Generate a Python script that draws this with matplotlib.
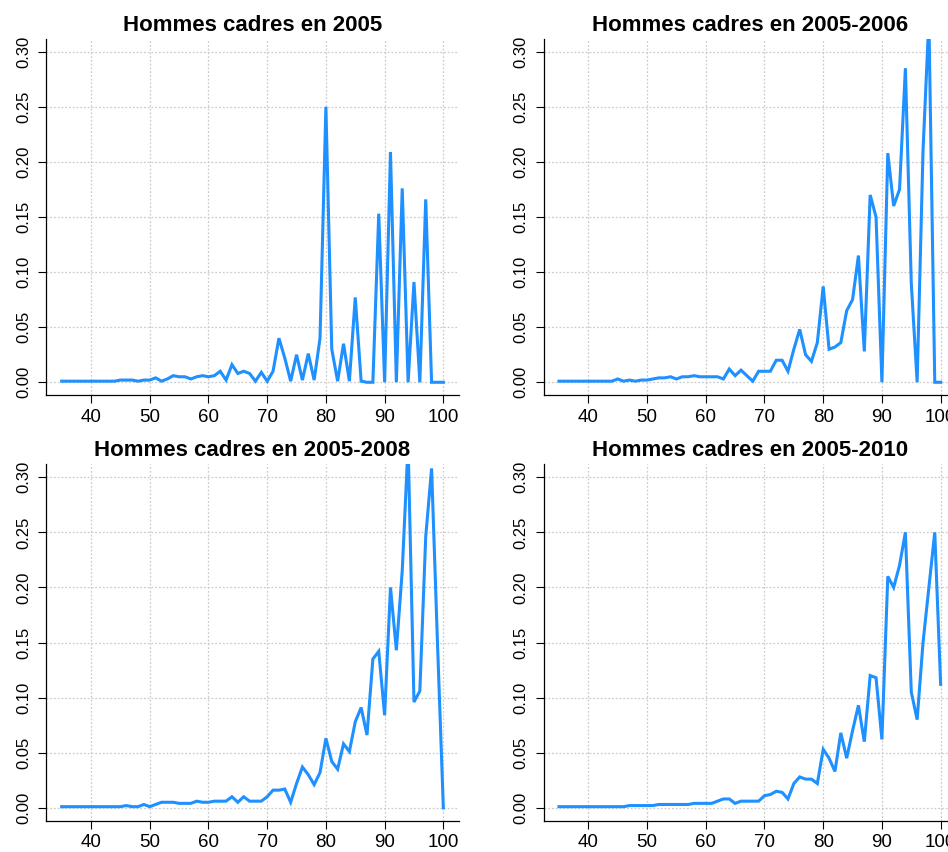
import matplotlib
matplotlib.use("Agg")
import matplotlib.pyplot as plt

plt.rcParams["font.family"] = ["Liberation Sans", "DejaVu Sans"]

# ages 35..100
ages = list(range(35, 101))

titres = [
    "Hommes cadres en 2005",
    "Hommes cadres en 2005-2006",
    "Hommes cadres en 2005-2008",
    "Hommes cadres en 2005-2010",
]

taux_2005 = [
    0.001, 0.001, 0.001, 0.001, 0.001, 0.001, 0.001, 0.001, 0.001, 0.001,
    0.002, 0.002, 0.002, 0.001, 0.002, 0.002, 0.004, 0.001, 0.003, 0.006,
    0.005, 0.005, 0.003, 0.005, 0.006, 0.005, 0.006, 0.010, 0.002, 0.016,
    0.008, 0.010, 0.008, 0.001, 0.009, 0.001, 0.010, 0.040, 0.022, 0.001,
    0.025, 0.002, 0.026, 0.002, 0.040, 0.250, 0.030, 0.001, 0.035, 0.001,
    0.077, 0.001, 0.000, 0.000, 0.153, 0.000, 0.209, 0.000, 0.176, 0.000,
    0.091, 0.000, 0.166, 0.000, 0.000, 0.000,
]

taux_2006 = [
    0.001, 0.001, 0.001, 0.001, 0.001, 0.001, 0.001, 0.001, 0.001, 0.001,
    0.003, 0.001, 0.002, 0.001, 0.002, 0.002, 0.003, 0.004, 0.004, 0.005,
    0.003, 0.005, 0.005, 0.006, 0.005, 0.005, 0.005, 0.005, 0.003, 0.012,
    0.006, 0.011, 0.006, 0.001, 0.010, 0.010, 0.010, 0.020, 0.020, 0.010,
    0.030, 0.048, 0.025, 0.019, 0.036, 0.087, 0.030, 0.032, 0.036, 0.065,
    0.075, 0.115, 0.028, 0.170, 0.150, 0.000, 0.208, 0.160, 0.175, 0.285,
    0.090, 0.000, 0.210, 0.330, 0.000, 0.000,
]

taux_2008 = [
    0.001, 0.001, 0.001, 0.001, 0.001, 0.001, 0.001, 0.001, 0.001, 0.001,
    0.001, 0.002, 0.001, 0.001, 0.003, 0.001, 0.003, 0.005, 0.005, 0.005,
    0.004, 0.004, 0.004, 0.006, 0.005, 0.005, 0.006, 0.006, 0.006, 0.010,
    0.005, 0.010, 0.006, 0.006, 0.006, 0.010, 0.016, 0.016, 0.017, 0.005,
    0.022, 0.037, 0.030, 0.021, 0.032, 0.063, 0.042, 0.035, 0.058, 0.051,
    0.078, 0.091, 0.066, 0.135, 0.142, 0.084, 0.200, 0.143, 0.215, 0.330,
    0.096, 0.106, 0.246, 0.308, 0.150, 0.000,
]

taux_2010 = [
    0.001, 0.001, 0.001, 0.001, 0.001, 0.001, 0.001, 0.001, 0.001, 0.001,
    0.001, 0.001, 0.002, 0.002, 0.002, 0.002, 0.002, 0.003, 0.003, 0.003,
    0.003, 0.003, 0.003, 0.004, 0.004, 0.004, 0.004, 0.006, 0.008, 0.008,
    0.004, 0.006, 0.006, 0.006, 0.006, 0.011, 0.012, 0.015, 0.014, 0.008,
    0.022, 0.028, 0.026, 0.026, 0.022, 0.053, 0.045, 0.033, 0.068, 0.045,
    0.070, 0.093, 0.060, 0.120, 0.118, 0.062, 0.210, 0.200, 0.220, 0.250,
    0.105, 0.080, 0.150, 0.200, 0.250, 0.112,
]

series = [taux_2005, taux_2006, taux_2008, taux_2010]

x_ticks = [40, 50, 60, 70, 80, 90, 100]
y_ticks = [0.00, 0.05, 0.10, 0.15, 0.20, 0.25, 0.30]

W, H = 948, 852
fig = plt.figure(figsize=(W / 100, H / 100), dpi=100)

# positions des panneaux en pixels (gauche, haut)
lefts = [46.4, 543.7, 46.4, 543.7]
tops = [38.5, 38.5, 464.0, 464.0]
larg, haut = 412.2, 357.0

for i in range(4):
    ax = fig.add_axes([lefts[i] / W, 1 - (tops[i] + haut) / H, larg / W, haut / H])
    ax.plot(ages, series[i], color="#1E90FF", linewidth=2.2, solid_joinstyle="miter")
    ax.set_xlim(32.4, 102.6)
    ax.set_ylim(-0.012, 0.312)
    ax.set_xticks(x_ticks)
    ax.set_yticks(y_ticks)
    ax.set_xticklabels([str(v) for v in x_ticks], fontsize=13.5)
    ax.set_yticklabels([f"{v:.2f}" for v in y_ticks], fontsize=12, rotation=90, va="center")
    ax.tick_params(axis="both", direction="out", length=6, width=0.8, color="black")
    ax.tick_params(axis="x", pad=3.5)
    ax.tick_params(axis="y", pad=5)
    ax.grid(True, color="#cccccc", linestyle=(0, (1.5, 1.5)), linewidth=0.9)
    ax.set_axisbelow(True)
    for cote in ["top", "right"]:
        ax.spines[cote].set_visible(False)
    for cote in ["left", "bottom"]:
        ax.spines[cote].set_linewidth(0.9)
        ax.spines[cote].set_color("black")
    ax.set_title(titres[i], fontsize=16, fontweight="bold", pad=5.6)

fig.savefig("out.png", dpi=100)
